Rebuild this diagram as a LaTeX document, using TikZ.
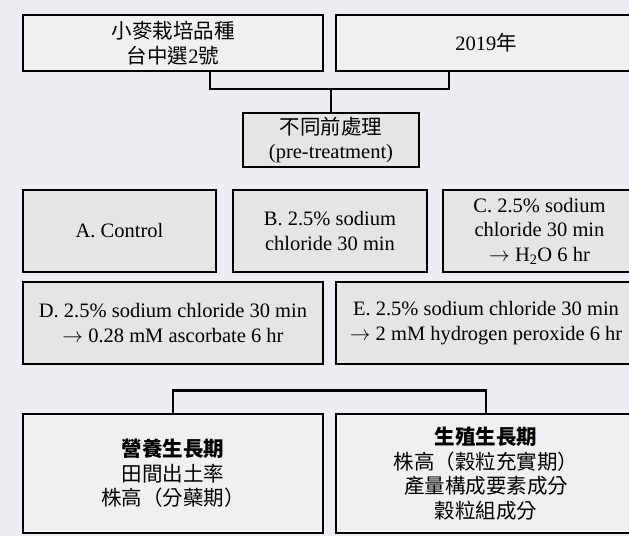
\documentclass[tikz,border=0pt]{standalone}
\usepackage{fontspec}
\setmainfont{Liberation Serif}
\newfontfamily\cjk{Noto Sans CJK TC}
\definecolor{bg}{HTML}{EDEEF2}
\definecolor{wfill}{HTML}{F0F0F2}
\definecolor{gfill}{HTML}{E5E5E6}
\newcommand{\myarr}{$\rightarrow$}
\begin{document}
\begin{tikzpicture}[x=1pt,y=-1pt,
  box/.style={draw=black, line width=2.8pt, align=center, inner sep=0pt,
    font=\fontsize{20.5}{24.5}\selectfont},
  wbox/.style={box, fill=wfill},
  gbox/.style={box, fill=gfill},
  conn/.style={line width=2.8pt}]
\fill[bg] (0,0) rectangle (629,536);
\useasboundingbox (0,0) rectangle (629,536);
% top
\node[wbox, minimum width=300pt, minimum height=56pt] (b1) at (173,43)
  {\raisebox{-3pt}{\cjk 小麥栽培品種}\\\raisebox{-3pt}{{\cjk 台中選}2{\cjk 號}}};
\node[wbox, minimum width=300pt, minimum height=56pt] (b2) at (486,43)
  {2019{\cjk 年}};
\node[gbox, minimum width=176pt, minimum height=54pt] (pre) at (331,140)
  {{\cjk 不同前處理}\\(pre-treatment)};
% treatments
\node[gbox, minimum width=193pt, minimum height=82pt] (A) at (119.5,231) {A. Control};
\node[gbox, minimum width=194pt, minimum height=82pt] (B) at (330,231)
  {B. 2.5\% sodium\\chloride 30 min};
\node[gbox, minimum width=193pt, minimum height=82pt] (C) at (539.5,231)
  {C. 2.5\% sodium\\chloride 30 min\\\myarr{} H\textsubscript{2}O 6 hr};
\node[gbox, minimum width=300pt, minimum height=82pt] (D) at (173,323)
  {D. 2.5\% sodium chloride 30 min\\\myarr{} 0.28 mM ascorbate 6 hr};
\node[gbox, minimum width=300pt, minimum height=82pt] (E) at (486,323)
  {E. 2.5\% sodium chloride 30 min\\\myarr{} 2 mM hydrogen peroxide 6 hr};
% bottom
\node[wbox, minimum width=300pt, minimum height=119pt] (F) at (173,473.5)
  {\cjk\bfseries 營養生長期\\\cjk 田間出土率\\\cjk 株高（分蘗期）};
\node[wbox, minimum width=300pt, minimum height=119pt] (G) at (486,473.5)
  {\cjk\bfseries 生殖生長期\\\cjk 株高（穀粒充實期）\\\cjk 產量構成要素成分\\\cjk 穀粒組成分};
% connectors
\coordinate (jl) at (210,89);
\coordinate (jr) at (449,89);
\draw[conn] (b1.south -| jl) -- (jl) -- (jr) -- (b2.south -| jr);
\draw[conn] (jl -| pre.north) -- (pre.north);
\draw[conn] (F.north) -- ++(0,-22) -| (G.north);
\end{tikzpicture}
\end{document}
